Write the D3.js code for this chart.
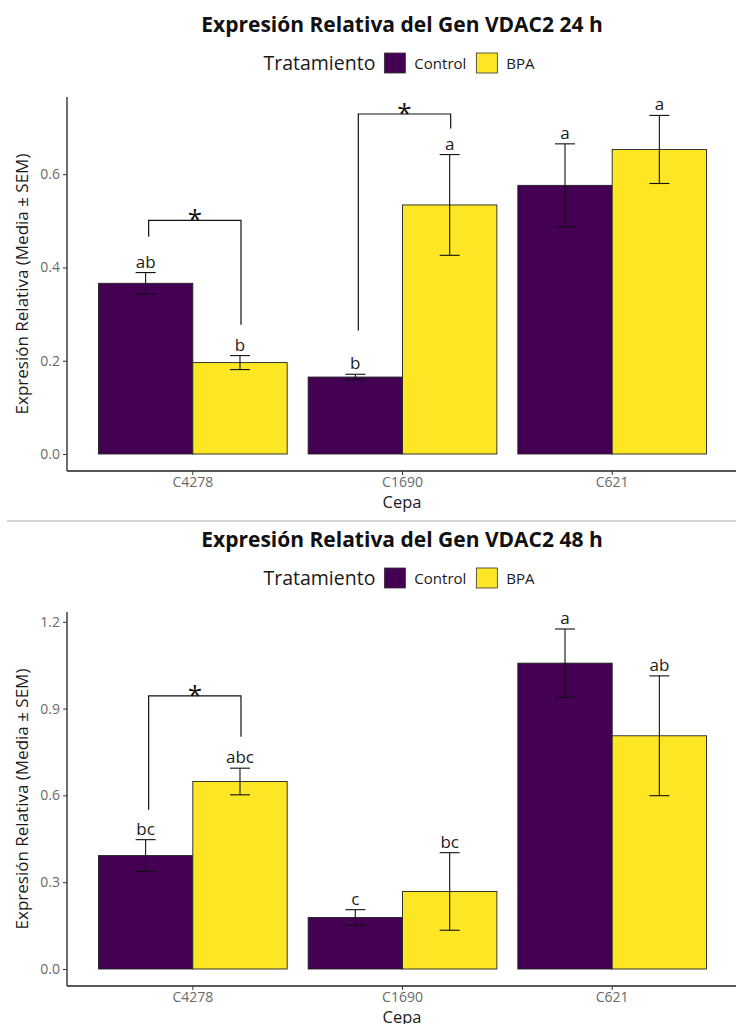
<!DOCTYPE html>
<html>
<head>
<meta charset="utf-8">
<script src="https://cdn.jsdelivr.net/npm/d3@7"></script>
<style>
  html, body { margin: 0; padding: 0; background: #fff; }
  svg { display: block; font-family: "Open Sans", "Noto Sans", sans-serif; }
</style>
</head>
<body>
<svg id="chart" width="736" height="1024"></svg>
<script>
// Strains and treatments
const categories = ["C4278", "C1690", "C621"];
const treatments = ["Control", "BPA"];
const treatmentColors = ["#440154", "#FDE725"];

// 24 h: mean relative expression and SEM
const mean24Control = [0.366, 0.165, 0.576];
const sem24Control  = [0.023, 0.006, 0.089];
const mean24BPA     = [0.196, 0.534, 0.653];
const sem24BPA      = [0.015, 0.108, 0.073];
const letters24Control = ["ab", "b", "a"];
const letters24BPA     = ["b", "a", "a"];
// significance brackets: strain, bar height, left and right leg ends
const brackets24 = [
  { cat: "C4278", y: 0.501, left: 0.466, right: 0.277 },
  { cat: "C1690", y: 0.729, left: 0.265, right: 0.698 }
];
const ticks24 = [0.0, 0.2, 0.4, 0.6];

// 48 h
const mean48Control = [0.392, 0.178, 1.057];
const sem48Control  = [0.055, 0.027, 0.118];
const mean48BPA     = [0.648, 0.268, 0.806];
const sem48BPA      = [0.046, 0.134, 0.207];
const letters48Control = ["bc", "c", "a"];
const letters48BPA     = ["abc", "bc", "ab"];
const brackets48 = [
  { cat: "C4278", y: 0.944, left: 0.55, right: 0.803 }
];
const ticks48 = [0.0, 0.3, 0.6, 0.9, 1.2];

const svg = d3.select("#chart");

function drawPanel(offsetY, title, means, sems, letters, brackets, ticks) {
  const g = svg.append("g").attr("transform", `translate(0,${offsetY})`);
  const panel = { left: 67, right: 738, top: 97, bottom: 471 };

  // rows of the table used by the marks
  const rows = [];
  categories.forEach((c, i) => {
    treatments.forEach((t, j) => {
      rows.push({ cat: c, trt: t, mean: means[j][i], sem: sems[j][i], letter: letters[j][i], color: treatmentColors[j] });
    });
  });

  const dataMax = d3.max([
    d3.max(rows, d => d.mean + d.sem),
    d3.max(brackets, b => b.y)
  ]);
  const pad = dataMax * 0.05;
  const y = d3.scaleLinear().domain([-pad, dataMax + pad]).range([panel.bottom, panel.top]);

  const x = d3.scaleBand().domain(categories).range([panel.left, panel.right])
    .paddingInner(0.1).paddingOuter(0.15);
  const xt = d3.scaleBand().domain(treatments).range([0, x.bandwidth()]).padding(0);
  const cx = d => x(d.cat) + xt(d.trt) + xt.bandwidth() / 2;

  // title
  g.append("text").attr("x", 402).attr("y", 31.5)
    .attr("text-anchor", "middle").attr("font-size", 21).attr("font-weight", 700)
    .attr("fill", "#111").text(title);

  // legend
  const leg = g.append("g").attr("class", "legend");
  const legTitle = leg.append("text").attr("y", 70).attr("font-size", 19.5).attr("fill", "#1a1a1a").text("Tratamiento");
  let cursor = legTitle.node().getComputedTextLength() + 9;
  treatments.forEach((t, j) => {
    leg.append("rect").attr("x", cursor).attr("y", 53).attr("width", 21).attr("height", 20)
      .attr("fill", treatmentColors[j]).attr("stroke", "#333").attr("stroke-width", 0.8);
    cursor += 21 + 9;
    const lbl = leg.append("text").attr("x", cursor).attr("y", 68.5).attr("font-size", 15)
      .attr("fill", "#1a1a1a").text(t);
    cursor += lbl.node().getComputedTextLength() + (j === 0 ? 10 : 0);
  });
  leg.attr("transform", `translate(${399 - cursor / 2},0)`);

  // bars
  g.selectAll("rect.bar").data(rows).join("rect").attr("class", "bar")
    .attr("x", d => x(d.cat) + xt(d.trt))
    .attr("width", xt.bandwidth())
    .attr("y", d => y(d.mean))
    .attr("height", d => y(0) - y(d.mean))
    .attr("fill", d => d.color)
    .attr("stroke", "#222").attr("stroke-width", 0.9);

  // error bars
  const capHalf = 10;
  const eb = g.selectAll("g.err").data(rows).join("g").attr("class", "err")
    .attr("stroke", "#111").attr("stroke-width", 1.1);
  eb.append("line").attr("x1", cx).attr("x2", cx)
    .attr("y1", d => y(d.mean + d.sem)).attr("y2", d => y(d.mean - d.sem));
  eb.append("line").attr("x1", d => cx(d) - capHalf).attr("x2", d => cx(d) + capHalf)
    .attr("y1", d => y(d.mean + d.sem)).attr("y2", d => y(d.mean + d.sem));
  eb.append("line").attr("x1", d => cx(d) - capHalf).attr("x2", d => cx(d) + capHalf)
    .attr("y1", d => y(d.mean - d.sem)).attr("y2", d => y(d.mean - d.sem));

  // group letters
  g.selectAll("text.letter").data(rows).join("text").attr("class", "letter")
    .attr("x", cx).attr("y", d => y(d.mean + d.sem) - 5)
    .attr("text-anchor", "middle").attr("font-size", 17).attr("fill", "#1a1a1a")
    .text(d => d.letter);

  // significance brackets
  brackets.forEach(b => {
    const xl = x(b.cat) + xt("Control") + xt.bandwidth() / 2 + 3;
    const xr = x(b.cat) + xt("BPA") + xt.bandwidth() / 2 + 1;
    g.append("path")
      .attr("d", `M${xl},${y(b.left)}V${y(b.y)}H${xr}V${y(b.right)}`)
      .attr("fill", "none").attr("stroke", "#111").attr("stroke-width", 1.2);
    g.append("text").attr("x", (xl + xr) / 2).attr("y", y(b.y) + 8)
      .attr("text-anchor", "middle").attr("font-size", 26).attr("fill", "#111")
      .text("*");
  });

  // axes
  const yAxis = d3.axisLeft(y).tickValues(ticks).tickFormat(d3.format(".1f")).tickSize(4).tickPadding(3);
  const ya = g.append("g").attr("transform", `translate(${panel.left},0)`).call(yAxis);
  const xAxis = d3.axisBottom(x).tickSize(4).tickPadding(2);
  const xa = g.append("g").attr("transform", `translate(0,${panel.bottom})`).call(xAxis);
  [ya, xa].forEach(a => {
    a.select(".domain").attr("stroke", "#222").attr("stroke-width", 1.3);
    a.selectAll(".tick line").attr("stroke", "#333").attr("stroke-width", 1);
    a.selectAll(".tick text").attr("fill", "#6a6a6a").attr("font-size", 14)
      .attr("font-family", "'Open Sans', 'Noto Sans', sans-serif");
  });
  ya.select(".domain").attr("d", `M0,${panel.top}V${panel.bottom}`);
  xa.select(".domain").attr("d", `M${panel.left},0H${panel.right}`);

  // axis titles
  g.append("text").attr("x", 402).attr("y", 507.5)
    .attr("text-anchor", "middle").attr("font-size", 16.5).attr("fill", "#1a1a1a").text("Cepa");
  g.append("text")
    .attr("transform", `translate(28,${(panel.top + panel.bottom) / 2}) rotate(-90)`)
    .attr("text-anchor", "middle").attr("font-size", 17).attr("fill", "#1a1a1a")
    .text("Expresión Relativa (Media ± SEM)");
}

drawPanel(0, "Expresión Relativa del Gen VDAC2 24 h",
  [mean24Control, mean24BPA], [sem24Control, sem24BPA],
  [letters24Control, letters24BPA], brackets24, ticks24);

// divider between the two figures
svg.append("line").attr("x1", 7).attr("x2", 736).attr("y1", 521).attr("y2", 521)
  .attr("stroke", "#d4d4d4").attr("stroke-width", 2);

drawPanel(515, "Expresión Relativa del Gen VDAC2 48 h",
  [mean48Control, mean48BPA], [sem48Control, sem48BPA],
  [letters48Control, letters48BPA], brackets48, ticks48);
</script>
</body>
</html>
